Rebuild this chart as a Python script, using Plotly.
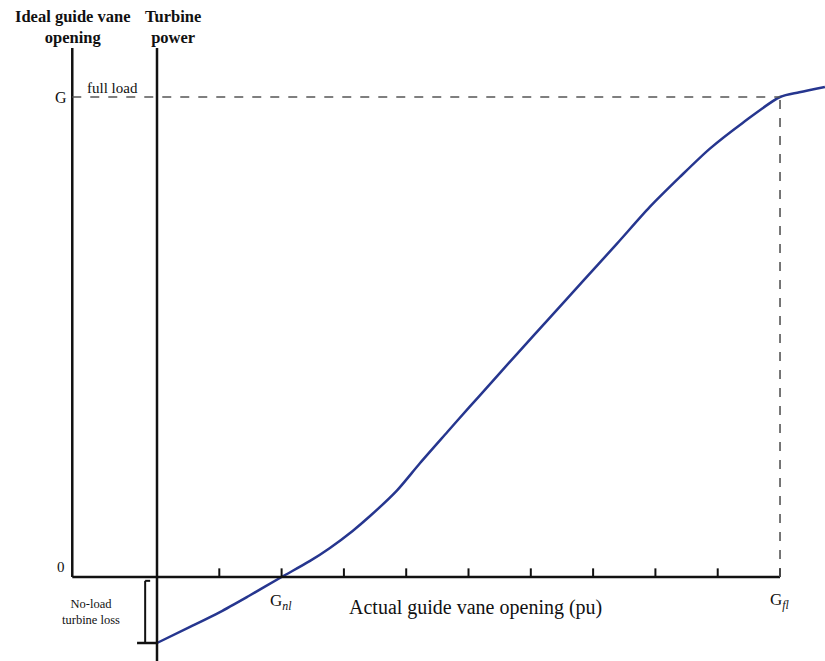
import plotly.graph_objects as go

# Turbine power vs. actual guide vane opening (per unit)
gate_opening = [0.0, 0.053, 0.101, 0.148, 0.200, 0.245, 0.277, 0.314, 0.342,
                0.385, 0.422, 0.466, 0.502, 0.518, 0.578, 0.631, 0.684, 0.738, 0.791,
                0.839, 0.887, 0.940, 1.000, 1.031, 1.072]
turbine_power = [-0.1375, -0.104, -0.073, -0.039, 0.0, 0.033, 0.060, 0.096, 0.127,
                 0.180, 0.237, 0.302, 0.355, 0.378, 0.465, 0.541, 0.617, 0.694, 0.771,
                 0.833, 0.892, 0.946, 1.000, 1.010, 1.021]

tick_positions = [0.1, 0.2, 0.3, 0.4, 0.5, 0.6, 0.7, 0.8, 0.9, 1.0]
g_nl = 0.2          # no-load opening
g_fl = 1.0          # full-load opening
full_load = 1.0     # ideal opening G
no_load_loss = -0.1375
ideal_axis_x = -0.136

SERIF = "Liberation Serif"
BLACK = "#111111"
CURVE = "#26368f"
DASH = "#555555"

fig = go.Figure()
fig.add_trace(go.Scatter(x=gate_opening, y=turbine_power, mode="lines",
                         line=dict(color=CURVE, width=2.5, shape="spline", smoothing=0.8),
                         hoverinfo="skip", showlegend=False))

shapes = []
# ideal guide vane opening axis
shapes.append(dict(type="line", x0=ideal_axis_x, x1=ideal_axis_x, y0=0, y1=1.102,
                   line=dict(color=BLACK, width=2.5)))
# turbine power axis
shapes.append(dict(type="line", x0=0, x1=0, y0=-0.2, y1=1.102,
                   line=dict(color=BLACK, width=2.5)))
# actual opening axis
shapes.append(dict(type="line", x0=ideal_axis_x, x1=g_fl, y0=0, y1=0,
                   line=dict(color=BLACK, width=2.5)))
for t in tick_positions:
    shapes.append(dict(type="line", x0=t, x1=t, y0=0, y1=0.018,
                       line=dict(color=BLACK, width=2)))
# full-load reference lines
shapes.append(dict(type="line", x0=ideal_axis_x, x1=g_fl, y0=full_load, y1=full_load,
                   line=dict(color=DASH, width=1.6, dash="dash")))
shapes.append(dict(type="line", x0=g_fl, x1=g_fl, y0=0, y1=full_load,
                   line=dict(color=DASH, width=1.6, dash="dash")))
# no-load loss bracket
bx = -0.019
shapes.append(dict(type="line", x0=bx, x1=bx, y0=-0.008, y1=no_load_loss,
                   line=dict(color=BLACK, width=2)))
shapes.append(dict(type="line", x0=bx, x1=bx + 0.008, y0=-0.008, y1=-0.008,
                   line=dict(color=BLACK, width=2)))
shapes.append(dict(type="line", x0=bx - 0.013, x1=0, y0=no_load_loss, y1=no_load_loss,
                   line=dict(color=BLACK, width=2.5)))

def label(text, x, y, size, **kw):
    return dict(text=text, x=x, y=y, xref="x", yref="y", showarrow=False,
                xanchor="center", yanchor="middle",
                font=dict(family=SERIF, size=size, color=BLACK), **kw)

annotations = [
    label("<b>Ideal guide vane<br>opening</b>", -0.135, 1.145, 16.5),
    label("<b>Turbine<br>power</b>", 0.0257, 1.145, 16.5),
    label("G", -0.154, 0.998, 16),
    label("full load", -0.072, 1.019, 15),
    label("0", -0.154, 0.021, 15),
    label("No-load<br>turbine loss", -0.106, -0.073, 12.5),
    label("G<sub><i>nl</i></sub>", 0.199, -0.052, 17),
    label("Actual guide vane opening (pu)", 0.512, -0.0625, 20),
    label("G<sub><i>fl</i></sub>", 1.0, -0.05, 17),
]

fig.update_layout(
    width=825, height=661,
    margin=dict(l=0, r=0, t=0, b=0),
    paper_bgcolor="white", plot_bgcolor="white",
    xaxis=dict(range=[-0.2520, 1.0722], visible=False, fixedrange=True),
    yaxis=dict(range=[-0.175, 1.2021], visible=False, fixedrange=True),
    shapes=shapes, annotations=annotations, showlegend=False,
)

fig.write_html("out.html")
